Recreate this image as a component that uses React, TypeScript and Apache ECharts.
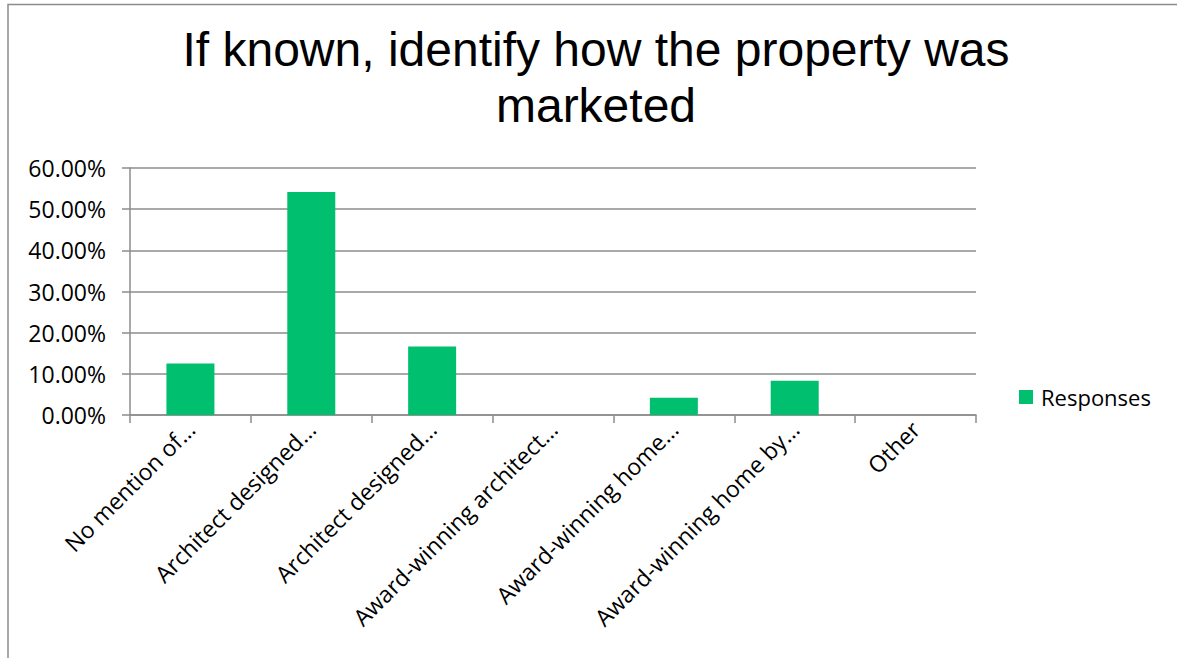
import React, { useEffect, useRef } from "react";
import * as echarts from "echarts";

const titleLines = ["If known, identify how the property was", "marketed"];
const categories = [
  "No mention of…",
  "Architect designed…",
  "Architect designed…",
  "Award-winning architect…",
  "Award-winning home…",
  "Award-winning home by…",
  "Other",
];
const seriesName = "Responses";
const responses = [0.125, 0.5417, 0.1667, 0, 0.0417, 0.0833, 0];
const yMin = 0;
const yMax = 0.6;
const yInterval = 0.1;

const GREEN = "#00BF6F";
const GRAY = "#8C8C8C";
const FONT = "'Open Sans', 'Noto Sans', sans-serif";
const TITLE_FONT = "'Liberation Sans', Arial, sans-serif";

export default function App() {
  const ref = useRef<HTMLDivElement>(null);
  useEffect(() => {
    if (!ref.current) return;
    const chart = echarts.init(ref.current, undefined, { renderer: "svg" });
    chart.setOption({
      animation: false,
      backgroundColor: "#ffffff",
      title: titleLines.map((line, i) => ({
        text: line,
        left: 596,
        top: 21 + i * 56,
        textAlign: "center",
        padding: 0,
        textStyle: {
          fontFamily: TITLE_FONT,
          fontSize: 48,
          fontWeight: "normal",
          color: "#000000",
          lineHeight: 56,
        },
      })),
      graphic: [
        {
          type: "rect",
          shape: { x: 8, y: 4.5, width: 1300, height: 800 },
          style: { fill: "none", stroke: GRAY, lineWidth: 1.5 },
          silent: true,
          z: 100,
        },
      ],
      legend: {
        data: [seriesName],
        left: 1014,
        top: 381,
        orient: "vertical",
        icon: "rect",
        itemWidth: 14,
        itemHeight: 14,
        itemGap: 8,
        textStyle: {
          fontFamily: FONT,
          fontSize: 22,
          color: "#000000",
          padding: [0, 0, 0, 3],
        },
      },
      grid: { left: 130, right: 201, top: 168, bottom: 243, containLabel: false },
      xAxis: {
        type: "category",
        data: categories,
        boundaryGap: true,
        axisLine: { show: true, lineStyle: { color: GRAY, width: 1.5 } },
        axisTick: {
          show: true,
          length: 8,
          alignWithLabel: false,
          lineStyle: { color: GRAY, width: 1.5 },
        },
        axisLabel: {
          interval: 0,
          rotate: 45,
          margin: 10,
          fontFamily: FONT,
          fontSize: 23,
          color: "#000000",
        },
        splitLine: { show: false },
      },
      yAxis: {
        type: "value",
        min: yMin,
        max: yMax,
        interval: yInterval,
        axisLine: { show: true, lineStyle: { color: GRAY, width: 1.5 } },
        axisTick: { show: true, length: 8, lineStyle: { color: GRAY, width: 1.5 } },
        axisLabel: {
          margin: 24,
          fontFamily: FONT,
          fontSize: 23,
          color: "#000000",
          formatter: (v: number) => (v * 100).toFixed(2) + "%",
        },
        splitLine: { show: true, lineStyle: { color: GRAY, width: 1.5 } },
      },
      series: [
        {
          name: seriesName,
          type: "bar",
          data: responses,
          barWidth: 48,
          itemStyle: { color: GREEN },
        },
      ],
    });
    return () => chart.dispose();
  }, []);
  return (
    <div
      ref={ref}
      style={{ position: "absolute", left: 0, top: 0, width: 1177, height: 658 }}
    />
  );
}
